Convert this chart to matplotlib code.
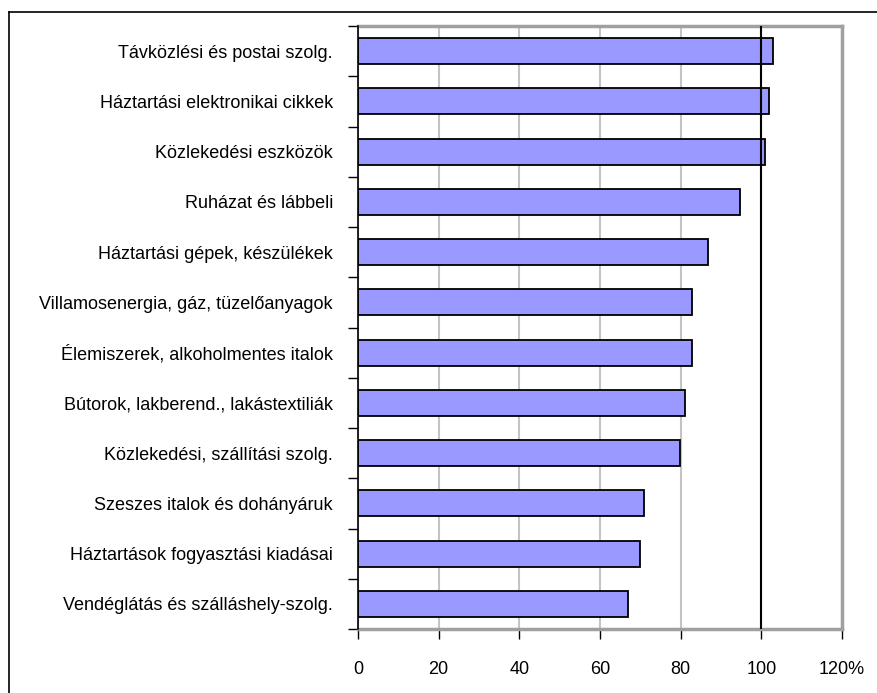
import numpy as np
import matplotlib
matplotlib.use('Agg')
import matplotlib.pyplot as plt
from matplotlib.lines import Line2D

plt.rcParams['font.family'] = ['Liberation Sans', 'DejaVu Sans']

###############################################################################
categories = [
    'Távközlési és postai szolg.',
    'Háztartási elektronikai cikkek',
    'Közlekedési eszközök',
    'Ruházat és lábbeli',
    'Háztartási gépek, készülékek',
    'Villamosenergia, gáz, tüzelőanyagok',
    'Élemiszerek, alkoholmentes italok',
    'Bútorok, lakberend., lakástextiliák',
    'Közlekedési, szállítási szolg.',
    'Szeszes italok és dohányáruk',
    'Háztartások fogyasztási kiadásai',
    'Vendéglátás és szálláshely-szolg.',
]
values = [103, 102, 101, 94.7, 86.8, 82.9, 82.9, 81.0, 79.8, 71.0, 70.0, 67.0]
xticks = [0, 20, 40, 60, 80, 100, 120]
xticklabels = ['0', '20', '40', '60', '80', '100', '120%']
###############################################################################

fig = plt.figure(figsize=(8.78, 6.93), dpi=100)
ax = fig.add_axes([358/878, 1 - 629/693, (842 - 358)/878, (629 - 26)/693])

y = np.arange(len(categories))
ax.barh(y, values, height=0.52, color='#9999FF', edgecolor='black',
        linewidth=1.3, zorder=3)
ax.axvline(100, color='black', linewidth=1.5, zorder=4)

ax.set_xlim(0, 120)
ax.set_ylim(len(categories) - 0.5, -0.5)
ax.set_xticks(xticks)
ax.set_xticklabels(xticklabels, fontsize=13)
ax.xaxis.grid(True, color='#C4C4C4', linewidth=1.5, zorder=0)
ax.tick_params(axis='x', direction='out', length=7, width=1, color='black', pad=16)

ax.set_yticks(y)
ax.set_yticklabels(categories, fontsize=13)
ax.tick_params(axis='y', which='major', length=0, pad=18)
ax.set_yticks(np.arange(len(categories) + 1) - 0.5, minor=True)
ax.tick_params(axis='y', which='minor', direction='out', length=7, width=1, color='black')

for side in ['top', 'right', 'bottom']:
    ax.spines[side].set_color('#A0A0A0')
    ax.spines[side].set_linewidth(2.5)
ax.spines['left'].set_color('black')
ax.spines['left'].set_linewidth(1.2)
ax.spines['left'].set_zorder(5)

# outer chart border (runs off the right and bottom edge)
x0 = 8.7 / 878
ytop = 1 - 11.5 / 693
fig.add_artist(Line2D([x0, x0], [-0.1, ytop], color='black', linewidth=1.2))
fig.add_artist(Line2D([x0, 1.1], [ytop, ytop], color='black', linewidth=1.2))

fig.savefig('out.png', dpi=100)
